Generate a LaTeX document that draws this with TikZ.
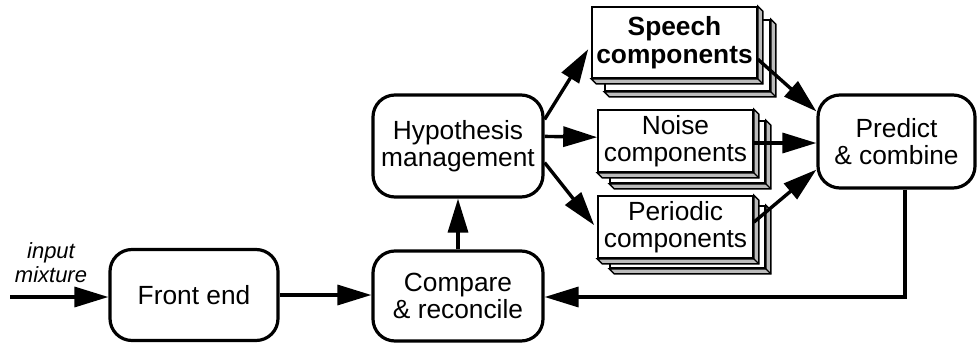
\documentclass[tikz,border=0pt]{standalone}
\usepackage{fontspec}
\setmainfont{Liberation Sans}
\usetikzlibrary{calc,arrows.meta}
\definecolor{extgrey}{HTML}{BBBBBB}
\begin{document}
\begin{tikzpicture}[x=1pt,y=-1pt,
  rbox/.style={draw, line width=3.2pt, rounded corners=22pt, fill=white, inner sep=0pt,
    align=center, font=\fontsize{26.3}{27.5}\selectfont},
  stk/.style={draw, line width=1.6pt, fill=white, inner sep=0pt, align=center,
    font=\fontsize{26.3}{27.5}\selectfont},
  extr/.style={fill=extgrey, draw=black, line width=1.4pt, line join=miter},
  arr/.style={line width=3.4pt, -{Triangle[length=34pt,width=20pt]}},
  plain/.style={line width=3.4pt}]
\useasboundingbox (0,0) rectangle (977,343);
\newcommand{\extr}[1]{%
  \filldraw[extr] (#1.north east) -- ++(5,5) -- ($(#1.south east)+(5,5)$) -- ($(#1.south west)+(5,5)$) -- (#1.south west) -- (#1.south east) -- cycle;
  \draw[line width=1.4pt] (#1.south east) -- ++(5,5);}

% rounded boxes
\node[rbox, minimum width=168pt, minimum height=91pt] (fe) at (194,295) {Front end};
\node[rbox, minimum width=170pt, minimum height=90pt] (cr) at (458,296) {Compare\\\& reconcile};
\node[rbox, minimum width=170pt, minimum height=102pt] (hm) at (458,146) {Hypothesis\\management};
\node[rbox, minimum width=157pt, minimum height=93pt] (pc) at (896.5,141.5) {Predict\\\& combine};

% stacked boxes
\coordinate (spc) at (674.5,42.5);
\coordinate (nzc) at (675.5,141);
\coordinate (pdc) at (675.5,227);

\node[stk, minimum width=165pt, minimum height=71pt] (spb) at ($(spc)+(13,13)$) {};
\extr{spb}
\node[stk, minimum width=165pt, minimum height=71pt, font=\fontsize{26.3}{27.5}\selectfont\bfseries] (sp) at (spc) {Speech\\components};
\extr{sp}

\node[stk, minimum width=155pt, minimum height=62pt] (nzb) at ($(nzc)+(12,11)$) {};
\extr{nzb}
\node[stk, minimum width=155pt, minimum height=62pt] (nz) at (nzc) {Noise\\components};
\extr{nz}

\node[stk, minimum width=155pt, minimum height=62pt] (pdb) at ($(pdc)+(12,10)$) {};
\extr{pdb}
\node[stk, minimum width=155pt, minimum height=62pt] (pd) at (pdc) {Periodic\\components};
\extr{pd}

% input
\coordinate (in) at (10,297);
\node[font=\fontsize{22}{24}\selectfont\itshape, align=center, inner sep=0pt] (inlab) at (51,263) {input\\mixture};
\draw[arr] (in) -- (fe.west |- in);

% main flow
\draw[arr] (fe.east) -- (fe.east -| cr.west);
\draw[arr] (cr.north) -- (hm.south);

% hypothesis to components
\draw[arr] ($(hm.north east)+(0,26)$) -- ($(sp.north west)+(-3,43)$);
\draw[arr] ($(hm.north east)+(0,43)$) -- ($(nz.north west)+(0,28)$);
\draw[arr] ($(hm.south east)+(0,-36)$) -- ($(pd.north west)+(-3,30)$);

% components to predict
\draw[arr] ($(sp.north east)+(0,53)$) -- ($(pc.north west)+(0,18)$);
\draw[arr] ($(nz.east)+(0,2)$) -- ($(pc.west)+(0,1.5)$);
\draw[arr] ($(pd.north east)+(0,27)$) -- ($(pc.south west)+(0,-20)$);

% feedback
\coordinate (fb) at (905,297);
\draw[plain] (pc.south -| fb) -- (fb);
\draw[arr] ([xshift=1.7pt]fb) -- (cr.east |- fb);
\end{tikzpicture}
\end{document}
